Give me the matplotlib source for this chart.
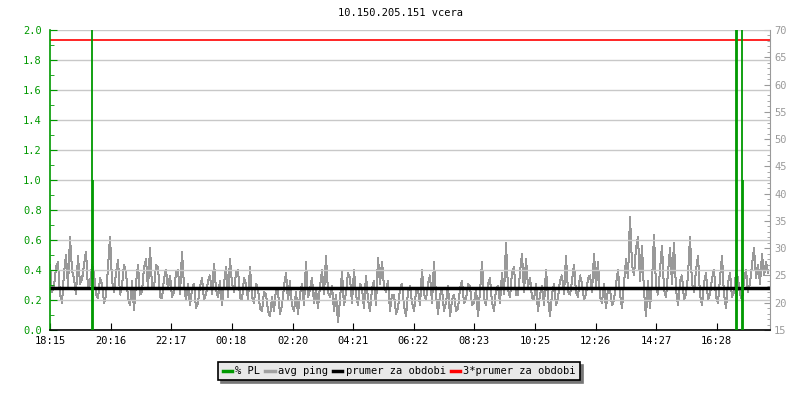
import numpy as np
import matplotlib
matplotlib.use("Agg")
import matplotlib.pyplot as plt
from matplotlib.ticker import MultipleLocator, FormatStrFormatter
from matplotlib.lines import Line2D

# ---------- data ----------
title = "10.150.205.151 vcera"
span_min = 1440                       # 18:15 -> 18:15 (minutes)
tick_min = [0, 121, 242, 363, 485, 606, 727, 848, 970, 1091, 1212, 1333]
tick_lab = ["18:15", "20:16", "22:17", "00:18", "02:20", "04:21",
            "06:22", "08:23", "10:25", "12:26", "14:27", "16:28"]

# avg ping [ms], samples at 0, 8, 16 ... min
ping_a = [
    26.9, 23, 27.5, 20, 28.7, 32.1, 24.5, 28.5, 24.2, 29.4,
    23.5, 25.5, 20.8, 23.5, 21.2, 32.1, 22, 27.8, 23, 25.5,
    19.5, 18.7, 27, 22, 28, 30, 22.5, 26.5, 20.8, 26,
    25, 22, 26, 29.4, 20.5, 19.5, 23.5, 20, 24.5, 21.5,
    25, 27.2, 21, 19.5, 26.5, 28, 22, 26, 20.5, 23.5,
    26.5, 20, 22.5, 18.5, 21.5, 17.5, 18.5, 22, 19.5, 25.5,
    24, 18.5, 18, 23.5, 27.5, 22.5, 20, 19, 26, 28.5,
    21, 18.5, 16.5, 25.7, 22, 24.5, 26, 19.5, 22.5, 25,
    18.5, 24, 28.2, 27.5, 22, 18.5, 21.5, 19, 23.5, 17.5,
    23, 18.5, 22.5, 26, 20.5, 25, 27.5, 18, 22.5, 20,
    17.5, 21.5, 19, 24, 20.5, 23, 20, 17.5, 27.5, 19.5,
    24.5, 18.5, 23, 25.5, 31, 21, 26.5, 21.5, 29, 28,
    24.5, 20.5, 18.5, 23, 26, 17.5, 23.5, 21, 25, 28.5,
    21.5, 27, 21, 23.5, 21.5, 25, 29, 27.5, 20, 19,
    22.5, 20.5, 26, 19, 28, 35.8, 25, 32, 30.5, 17.5,
    19, 32.5, 21.5, 30.5, 21, 30, 31, 19.5, 25, 21.5,
    32, 22, 28.5, 19.5, 25.5, 21.5, 26, 20, 28.5, 19,
    25.5, 22, 24.5, 20.5, 26, 23.5, 30, 27, 29, 27.5,
]
# avg ping [ms], samples at 4, 12, 20 ... min
ping_b = [
    22, 26.5, 21.5, 25.5, 23, 26, 21.5, 23.5, 27, 22.5,
    27, 21.5, 24.5, 20, 26.5, 24, 25.5, 21.5, 27, 21,
    24, 23.5, 21.5, 26.5, 22.5, 23, 27, 21, 24.5, 22.5,
    21, 25.5, 21.5, 23, 23.5, 22.5, 19, 23, 20.5, 24,
    21.5, 22.5, 24, 23.5, 21, 23.5, 25.5, 21, 24.5, 20.5,
    21, 23.5, 19, 22, 18.5, 21, 22.5, 18, 23, 20.5,
    19.5, 22, 21.5, 19.5, 21, 24.5, 22.5, 23, 21.5, 22,
    23, 21.5, 20.5, 19.5, 25.5, 20, 21.5, 23.5, 19, 20.5,
    22.5, 19.5, 23.5, 23, 24, 21.5, 18, 22.5, 19.5, 22,
    20, 22, 19.5, 21.5, 23.5, 20, 21.5, 21.5, 18.5, 23,
    20.5, 18.5, 22.5, 20, 23.5, 19.5, 22.5, 22, 21, 23.5,
    20, 22.5, 20, 21.5, 22.5, 25.5, 21.5, 25.5, 22, 23,
    21, 23.5, 21.5, 19.5, 21, 21.5, 19.5, 24, 21.5, 22,
    24, 22, 25, 20.5, 24.5, 22, 23, 21, 23.5, 22.5,
    19.5, 23.5, 21.5, 23.5, 24.5, 27, 30, 24, 22, 24,
    24, 23, 26, 22.5, 25.5, 23.5, 22.5, 24, 20.5, 25,
    23.5, 26, 21.5, 23.5, 20.5, 24.5, 21, 24.5, 21.5, 23.5,
    21, 25.5, 21.5, 24, 22, 27, 24.5, 23.5, 25, 25.5,
]
# packet loss [%]
pl_min = [84, 86, 1372, 1374, 1384, 1386]
pl_val = [10, 1.0, 10, 10, 10, 1.0]

mean_ping = 22.7

GREEN = "#009900"
GREY = "#a0a0a0"
AXGREY = "#9a9a9a"

plt.rcParams["font.family"] = "DejaVu Sans Mono"
plt.rcParams["font.size"] = 7.5

fig = plt.figure(figsize=(8, 4), dpi=100)
ax = fig.add_axes([0.0625, 0.175, 0.9, 0.75])
ax2 = ax.twinx()

# interleave the two sample lists in time order
ping = np.column_stack([ping_a, ping_b]).ravel()
t = np.linspace(0, span_min, len(ping), endpoint=False)

# grid
ax.set_ylim(0, 2.0)
ax.yaxis.set_major_locator(MultipleLocator(0.2))
ax.yaxis.set_minor_locator(MultipleLocator(0.1))
ax.grid(axis="y", color="#c8c8c8", linewidth=1)
ax.set_axisbelow(True)

ax2.plot(t, ping, color="#999999", linewidth=0.72, antialiased=False)
ax2.axhline(mean_ping, color="black", linewidth=2.5)
ax2.axhline(3 * mean_ping, color="red", linewidth=1.2)
ax2.set_ylim(15, 70)

ax.vlines(pl_min, 0, pl_val, color=GREEN, linewidth=1.3, zorder=5)
ax.set_zorder(ax2.get_zorder() + 1)
ax.patch.set_visible(False)

ax.set_xlim(0, span_min)
ax.set_xticks(tick_min)
ax.set_xticklabels(tick_lab)

# left axis style
ax.spines["left"].set_color(GREEN)
ax.spines["left"].set_linewidth(1.2)
ax.tick_params(axis="y", which="both", direction="in", colors=GREEN, labelcolor=GREEN)
ax.tick_params(axis="y", which="major", length=5, pad=6)
ax.tick_params(axis="y", which="minor", length=3)
ax.yaxis.set_major_formatter(FormatStrFormatter("%.1f"))
ax.tick_params(axis="x", direction="in", length=5, color="black", pad=4)
ax.spines["bottom"].set_linewidth(1.2)
for s in ("top", "right"):
    ax.spines[s].set_visible(False)

# right axis style
for s in ("top", "left", "bottom"):
    ax2.spines[s].set_visible(False)
ax2.spines["right"].set_color(AXGREY)
ax2.yaxis.set_major_locator(MultipleLocator(5))
ax2.yaxis.set_minor_locator(MultipleLocator(1))
ax2.tick_params(axis="y", which="both", direction="in", colors=AXGREY, labelcolor=AXGREY)
ax2.tick_params(axis="y", which="major", length=4, pad=3)
ax2.tick_params(axis="y", which="minor", length=2)

fig.text(0.5, 0.967, title, ha="center", va="center", fontsize=7.5)

handles = [Line2D([], [], color=GREEN, lw=2.5),
           Line2D([], [], color=GREY, lw=2.5),
           Line2D([], [], color="black", lw=2.5),
           Line2D([], [], color="red", lw=2.5)]
labels = ["% PL", "avg ping", "prumer za obdobi", "3*prumer za obdobi"]
leg = fig.legend(handles, labels, loc="center", bbox_to_anchor=(0.499, 0.072),
                 ncol=4, fancybox=False, framealpha=1, facecolor="#e8e8e8",
                 edgecolor="black", handlelength=0.9, handletextpad=0.3,
                 columnspacing=0.5, borderpad=0.4,
                 shadow={"color": "#777777", "alpha": 1})
leg.get_frame().set_linewidth(1.2)

fig.savefig("out.png", dpi=100)
